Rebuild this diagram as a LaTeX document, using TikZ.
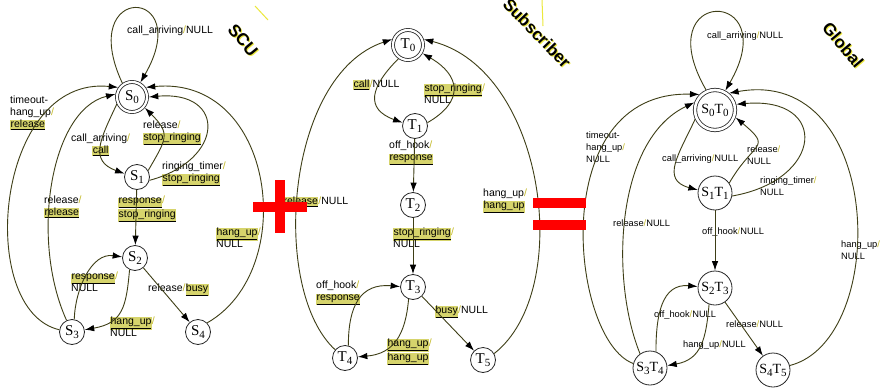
\documentclass[tikz,border=0pt]{standalone}
\usepackage{fontspec}
\setmainfont{Liberation Sans}
\newfontfamily\statefont{Liberation Serif}
\usepackage{tikz}
\usetikzlibrary{arrows.meta}

\definecolor{wire}{RGB}{62,62,22}
\definecolor{msgbg}{RGB}{214,212,108}
\definecolor{slashc}{RGB}{196,186,40}
\definecolor{glow}{RGB}{236,232,60}

% input/output separator and exchanged messages
\newcommand{\io}{{\color{slashc}/}}
\newcommand{\msg}[1]{{\setlength{\fboxsep}{0.4pt}\colorbox{msgbg}{\underline{#1}}}}
\newcommand{\stsub}[1]{\raisebox{-3pt}{\fontsize{11}{11}\selectfont #1}}

\begin{document}
\begin{tikzpicture}[x=1pt, y=-1pt]

    \tikzstyle{st}=[circle, draw=black!85, fill=white, line width=0.8pt, minimum size=25pt, inner sep=0pt, font=\statefont\fontsize{15}{15}\selectfont]
    \tikzstyle{init}=[st, double, double distance=2.2pt, minimum size=30pt, outer sep=1.8pt]
    \tikzstyle{gst}=[st, minimum size=34pt, font=\statefont\fontsize{14}{14}\selectfont]
    \tikzstyle{ginit}=[gst, double, double distance=2.6pt, minimum size=40pt, outer sep=2pt]
    \tikzstyle{tr}=[->, draw=wire, line width=0.9pt, >={Latex[length=9.5pt,width=6.5pt,color=black]}]
    \tikzstyle{lbl}=[inner sep=0pt, anchor=west, align=left, font=\fontsize{10.5}{12}\selectfont]
    \tikzstyle{glbl}=[lbl, font=\fontsize{9.3}{12}\selectfont]
    \tikzstyle{ttl}=[inner sep=0pt, font=\bfseries\fontsize{17}{17}\selectfont]

    \fill[white] (0,0) rectangle (882,388);
    \useasboundingbox (0,0) rectangle (882,388);

    % SCU machine
    \node[init] (S0) at (132,97) {S\stsub{0}};
    \node[st] (S1) at (137,177) {S\stsub{1}};
    \node[st] (S2) at (135,258) {S\stsub{2}};
    \node[st] (S3) at (72,332) {S\stsub{3}};
    \node[st] (S4) at (198,332) {S\stsub{4}};

    \node[lbl] (cS0loop) at (127,31) {call\_arriving\io NULL};
    \node[lbl,align=center] (cS0S1) at (71,145) {call\_arriving\io\\\msg{call}};
    \node[lbl] (cS1S0a) at (143,133) {release\io\\\msg{stop\_ringing}};
    \node[lbl] (cS1S0b) at (162,174) {ringing\_timer\io\\\msg{stop\_ringing}};
    \node[lbl] (cS1S2) at (118,209) {\msg{response}\io\\\msg{stop\_ringing}};
    \node[lbl] (cS2S3) at (110,327) {\msg{hang\_up}\io\\NULL};
    \node[lbl] (cS3S2) at (71,282) {\msg{response}\io\\NULL};
    \node[lbl] (cS2S4) at (148,290) {release\io\msg{busy}};
    \node[lbl] (cS4S0) at (216,238) {\msg{hang\_up}\io\\NULL};
    \node[lbl] (cS3S0a) at (10,113) {timeout-\\hang\_up\io\\\msg{release}};
    \node[lbl] (cS3S0b) at (44,207) {release\io\\\msg{release}};

    \draw[tr] (S0.125) to[out=115,in=60,min distance=112pt] (S0.60);
    \draw[tr] (S0.205) to[out=245,in=160,looseness=1.4] (S1.165);
    \draw[tr] (S1.30) to[out=60,in=-45,looseness=1.5] (S0.-40);
    \draw[tr] (S1.-15) to[out=15,in=5,looseness=2.4] (S0.0);
    \draw[tr] (S1) to (S2);
    \draw[tr] (S2.245) to[out=265,in=10,looseness=1.3] (S3.10);
    \draw[tr] (S3.80) to[out=88,in=172] (S2.175);
    \draw[tr] (S2) to (S4);
    \draw[tr] (S4.45) .. controls (300,270) and (275,75) .. (S0.35);
    \draw[tr] (S3.170) .. controls (-25,310) and (-5,75) .. (S0.145);
    \draw[tr] (S3.115) .. controls (30,240) and (50,110) .. (S0.170);

    % subscriber machine
    \node[init] (T0) at (408,45) {T\stsub{0}};
    \node[st] (T1) at (415,126) {T\stsub{1}};
    \node[st] (T2) at (413,205) {T\stsub{2}};
    \node[st] (T3) at (413,287) {T\stsub{3}};
    \node[st] (T4) at (345,358) {T\stsub{4}};
    \node[st] (T5) at (483,360) {T\stsub{5}};

    \node[lbl] (cT0T1) at (353,85) {\msg{call}\io NULL};
    \node[lbl] (cT1T0) at (424,94) {\msg{stop\_ringing}\io\\NULL};
    \node[lbl] (cT1T2) at (389,153) {off\_hook\io\\\msg{response}};
    \node[lbl] (cT2T3) at (393,238) {\msg{stop\_ringing}\io\\NULL};
    \node[lbl] (cT3T4) at (387,352) {\msg{hang\_up}\io\\\msg{hang\_up}};
    \node[lbl] (cT4T3) at (316,293) {off\_hook\io\\\msg{response}};
    \node[lbl] (cT3T5) at (435,312) {\msg{busy}\io NULL};
    \node[lbl] (cT4T0) at (283,202) {\msg{release}\io NULL};
    \node[lbl] (cT5T0) at (483,201) {hang\_up\io\\\msg{hang\_up}};

    \draw[tr] (T0.235) to[out=225,in=160,looseness=1.6] (T1.165);
    \draw[tr] (T1.15) to[out=30,in=-30,looseness=1.6] (T0.-30);
    \draw[tr] (T1) to (T2);
    \draw[tr] (T2) to (T3);
    \draw[tr] (T3.250) to[out=265,in=5,looseness=1.2] (T4.5);
    \draw[tr] (T4.75) to[out=90,in=175,looseness=1.3] (T3.178);
    \draw[tr] (T3) to (T5);
    \draw[tr] (T4.140) .. controls (270,290) and (285,75) .. (T0.160);
    \draw[tr] (T5.30) .. controls (575,290) and (545,70) .. (T0.20);

    % composed machine
    \node[ginit] (S0T0) at (715,110) {S\stsub{0}T\stsub{0}};
    \node[gst] (S1T1) at (715,193) {S\stsub{1}T\stsub{1}};
    \node[gst] (S2T3) at (715,288) {S\stsub{2}T\stsub{3}};
    \node[gst] (S3T4) at (650,368) {S\stsub{3}T\stsub{4}};
    \node[gst] (S4T5) at (773,370) {S\stsub{4}T\stsub{5}};

    \node[glbl] (gloop) at (707,36) {call\_arriving\io NULL};
    \node[glbl] (g01) at (662,159) {call\_arriving\io NULL};
    \node[glbl] (g10a) at (747,155) {release\io\\NULL};
    \node[glbl] (g10b) at (760,186) {ringing\_timer\io\\NULL};
    \node[glbl] (g12) at (702,232) {off\_hook\io NULL};
    \node[glbl] (g32) at (654,315) {off\_hook\io NULL};
    \node[glbl] (g23) at (683,345) {hang\_up\io NULL};
    \node[glbl] (g24) at (726,324) {release\io NULL};
    \node[glbl] (g40) at (841,250) {hang\_up\io\\NULL};
    \node[glbl] (g30a) at (586,147) {timeout-\\hang\_up\io\\NULL};
    \node[glbl] (g30b) at (613,223) {release\io NULL};

    \draw[tr] (S0T0.114) to[out=120,in=60,min distance=120pt] (S0T0.62);
    \draw[tr] (S0T0.205) to[out=245,in=165,looseness=1.4] (S1T1.170);
    \draw[tr] (S1T1.35) to[out=60,in=-40,looseness=1.9] (S0T0.-20);
    \draw[tr] (S1T1.-10) to[out=10,in=5,looseness=2.6] (S0T0.15);
    \draw[tr] (S1T1) to (S2T3);
    \draw[tr] (S2T3.250) to[out=265,in=10,looseness=1.2] (S3T4.8);
    \draw[tr] (S3T4.70) to[out=90,in=175,looseness=1.2] (S2T3.175);
    \draw[tr] (S2T3) to (S4T5);
    \draw[tr] (S4T5.15) .. controls (890,340) and (885,65) .. (S0T0.50);
    \draw[tr] (S3T4.165) .. controls (570,340) and (545,90) .. (S0T0.135);
    \draw[tr] (S3T4.125) .. controls (610,280) and (615,140) .. (S0T0.160);

    % titles
    \node[ttl,rotate=-50,text=glow] (scuGlow) at (244,41) {SCU};
    \node[ttl,rotate=-50] (scu) at (243,40) {SCU};
    \node[ttl,rotate=-46,text=glow] (subGlow) at (538,34) {Subscriber};
    \node[ttl,rotate=-46] (sub) at (537,33) {Subscriber};
    \node[ttl,rotate=-50,text=glow] (gloGlow) at (844,46) {Global};
    \node[ttl,rotate=-50] (glo) at (843,45) {Global};
    \draw[glow, line width=1pt] (255,6) -- (268,20);
    \draw[glow, line width=1pt] (542,0) -- (543,26);

    % plus and equals
    \fill[red] (275,180) rectangle (285,233);
    \fill[red] (253,202) rectangle (307,212);
    \fill[red] (533,198) rectangle (586,208);
    \fill[red] (533,220) rectangle (586,230);
\end{tikzpicture}
\end{document}
